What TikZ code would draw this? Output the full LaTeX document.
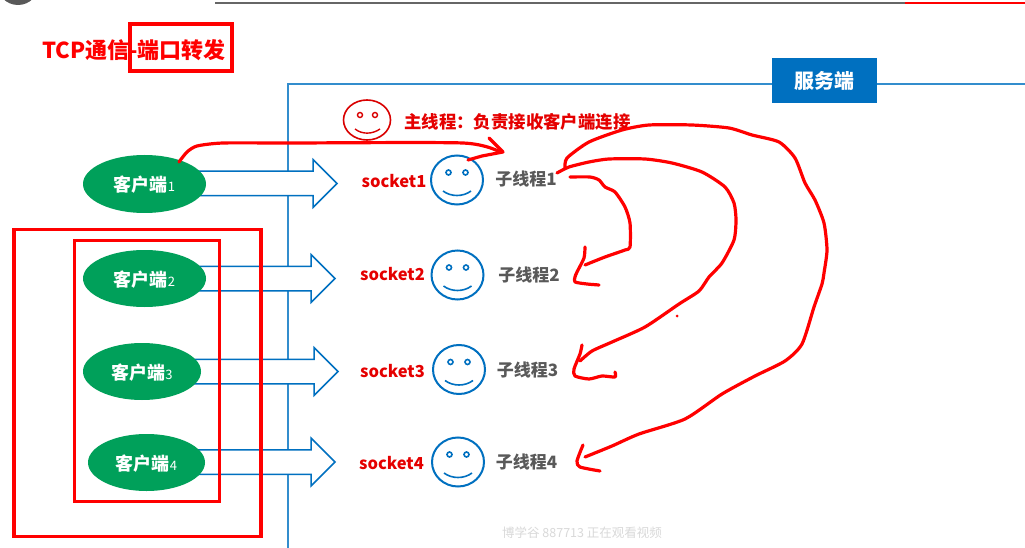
\documentclass[tikz,border=0pt]{standalone}
\usepackage{fontspec}
\setmainfont{Noto Sans CJK SC}
\usepackage{xcolor}
\usetikzlibrary{shapes.geometric, shapes.arrows, arrows.meta, positioning}
\definecolor{srvblue}{HTML}{0070C0}
\definecolor{cligreen}{HTML}{00A05A}
\definecolor{txtgray}{HTML}{595959}
\tikzset{
    client/.style={ellipse, fill=cligreen, text=white, font=\bfseries\fontsize{18}{20}\selectfont, inner sep=0pt},
    blockarrow/.style={single arrow, draw=srvblue, fill=white, line width=1.5pt, anchor=tip, minimum height=147pt,
        minimum width=46pt, single arrow head extend=11.5pt, single arrow head indent=0pt, inner xsep=0pt, inner ysep=11.5pt},
    face/.style={ellipse, draw=srvblue, line width=2pt, minimum width=52pt, minimum height=49pt, inner sep=0pt},
    sock/.style={text=red!90!black, font=\bfseries\fontsize{16.5}{20}\selectfont, inner sep=0pt},
    thread/.style={text=txtgray, font=\bfseries\fontsize{17}{20}\selectfont, inner sep=0pt},
    redbox/.style={draw=red, line width=3.2pt, inner sep=0pt},
    pen/.style={draw=red, line width=3.2pt, line cap=round, line join=round},
}
\begin{document}
\begin{tikzpicture}[x=1pt,y=-1pt]
        \useasboundingbox (0,0) rectangle (1025,548);
        \clip (0,0) rectangle (1025,548);
        \fill[white] (0,0) rectangle (1025,548);

        % Barra superior
        \fill[black!65] (18,-16) circle (21);
        \draw[black!60, line width=1.5pt] (215,3) -- (905,3);
        \draw[red, line width=1.5pt] (905,3) -- (1025,3);

        % Titulo
        \node[text=red, font=\bfseries\fontsize{22}{24}\selectfont, inner sep=0pt, anchor=west] (title) at (42,50) {TCP通信-端口转发};
        \node[redbox, minimum width=102pt, minimum height=47pt] (titlebox) at (181,47.5) {};

        % Servidor
        \draw[srvblue!80!white, line width=2pt] (1025,84.5) -- (288,84.5) -- (288,548);
        \node[fill=srvblue, text=white, font=\bfseries\fontsize{20}{24}\selectfont, minimum width=105pt, minimum height=45pt, inner sep=0pt] (srv) at (824.5,80.5) {服务端};

        % Setas
        \foreach \n/\x/\y in {1/338/183.5, 2/336/278.5, 3/339/371.5, 4/336/462}
            \node[blockarrow] (a\n) at (\x,\y) {};

        % Clientes
        \foreach \n/\x/\y/\w/\d in {1/144.5/184/123/58, 2/144.5/278.5/123/57, 3/142/371.5/118/57, 4/146.5/462.5/117/57}
            \node[client, minimum width=\w pt, minimum height=\d pt, text depth=-7pt] (c\n) at (\x,\y) {客户端{\fontsize{13}{14}\selectfont\mdseries\n}};

        % Caixas vermelhas
        \node[redbox, minimum width=247pt, minimum height=307pt] (outer) at (137.5,383) {};
        \node[redbox, minimum width=145pt, minimum height=261pt] (inner) at (147,371) {};

        % Thread principal
        \node[ellipse, draw=red!85!black, line width=1.6pt, minimum width=47pt, minimum height=40pt, inner sep=0pt] (mf) at (367,120) {};
        \begin{scope}[shift={(mf.center)}, red!85!black, line width=1.4pt]
            \draw[fill=white] (-7,-5) circle (2.5);
            \draw[fill=white] (8,-5) circle (2.5);
            \draw (-12,9) .. controls (-5,14.5) and (5,14.5) .. (13,9);
        \end{scope}
        \node[text=red!90!black, font=\bfseries\fontsize{17.4}{20}\selectfont, inner sep=0pt, anchor=west] (mt) at (404,122) {主线程：负责接收客户端连接};

        % Threads filhas
        \foreach \n/\x/\y in {1/457/180, 2/457.5/275, 3/459/369.5, 4/458/462} {
            \node[face] (f\n) at (\x,\y) {};
            \begin{scope}[shift={(f\n.center)}, srvblue, line width=1.6pt]
                \draw[fill=white] (-8.5,-7.5) circle (2.5);
                \draw[fill=white] (8.5,-7.5) circle (2.5);
                \draw (-14,11) .. controls (-6,17) and (6,17) .. (14,11);
            \end{scope}
        }
        \foreach \n/\x/\y in {1/394/181, 2/392.5/274, 3/392.5/371, 4/391.5/463}
            \node[sock] (s\n) at (\x,\y) {socket\n};
        \foreach \n/\x/\y in {1/526/179, 2/529/275, 3/527.5/370, 4/526.5/462}
            \node[thread] (t\n) at (\x,\y) {子线程\n};

        % Traços a mão
        \coordinate (p0) at (179,162);
        \coordinate (p1) at (500,152);
        \coordinate (p2) at (570,177);
        \coordinate (p3) at (585,265);
        \coordinate (p4) at (557,173);
        \coordinate (p5) at (580,361);
        \coordinate (p6) at (565,168);
        \coordinate (p7) at (585,457);
        \draw[pen] plot[smooth, tension=0.4] coordinates {(p0) (187,152) (197,146) (223,143) (290,143) (463,143) (p1)};
        \draw[pen] (489,138) -- (503,152) -- (482,156) -- (468,160);
        \draw[pen] plot[smooth, tension=0.4] coordinates {(p2) (590,177) (599,180) (605,187) (615,192) (625,207) (630,223) (630,247) (625,250) (605,257) (p3)};
        \draw[pen] plot[smooth, tension=0.4] coordinates {(585,247) (584,258) (577,272) (575,277) (575,282) (587,284) (599,285)};
        \draw[pen] plot[smooth, tension=0.4] coordinates {(p4) (569,167) (589,162) (609,159) (645,159) (672,163) (702,172) (725,187) (734,203) (736,220) (734,240) (722,263) (709,277) (699,291) (679,304) (645,327) (612,342) (592,351) (p5)};
        \draw[pen] plot[smooth, tension=0.4] coordinates {(582,345) (580,354) (574,369) (575,376) (589,379) (602,376) (615,377) (615,372)};
        \draw[pen] plot[smooth, tension=0.4] coordinates {(p6) (567,158) (589,142) (622,130) (649,125) (692,125) (729,128) (752,135) (779,142) (795,158) (805,183) (815,200) (824,223) (827,250) (824,273) (822,284) (814,307) (802,344) (785,361) (755,376) (722,394) (685,419) (639,434) (612,446) (p7)};
        \draw[pen] plot[smooth, tension=0.4] coordinates {(583,445) (577,461) (580,467) (600,471)};
        \fill[red] (677,316) circle (1.5);

        % Marca d'agua
        \node[text=black!15, font=\fontsize{12.5}{14}\selectfont, inner sep=0pt] (wm) at (582,533) {博学谷 887713 正在观看视频};
    \end{tikzpicture}
\end{document}
